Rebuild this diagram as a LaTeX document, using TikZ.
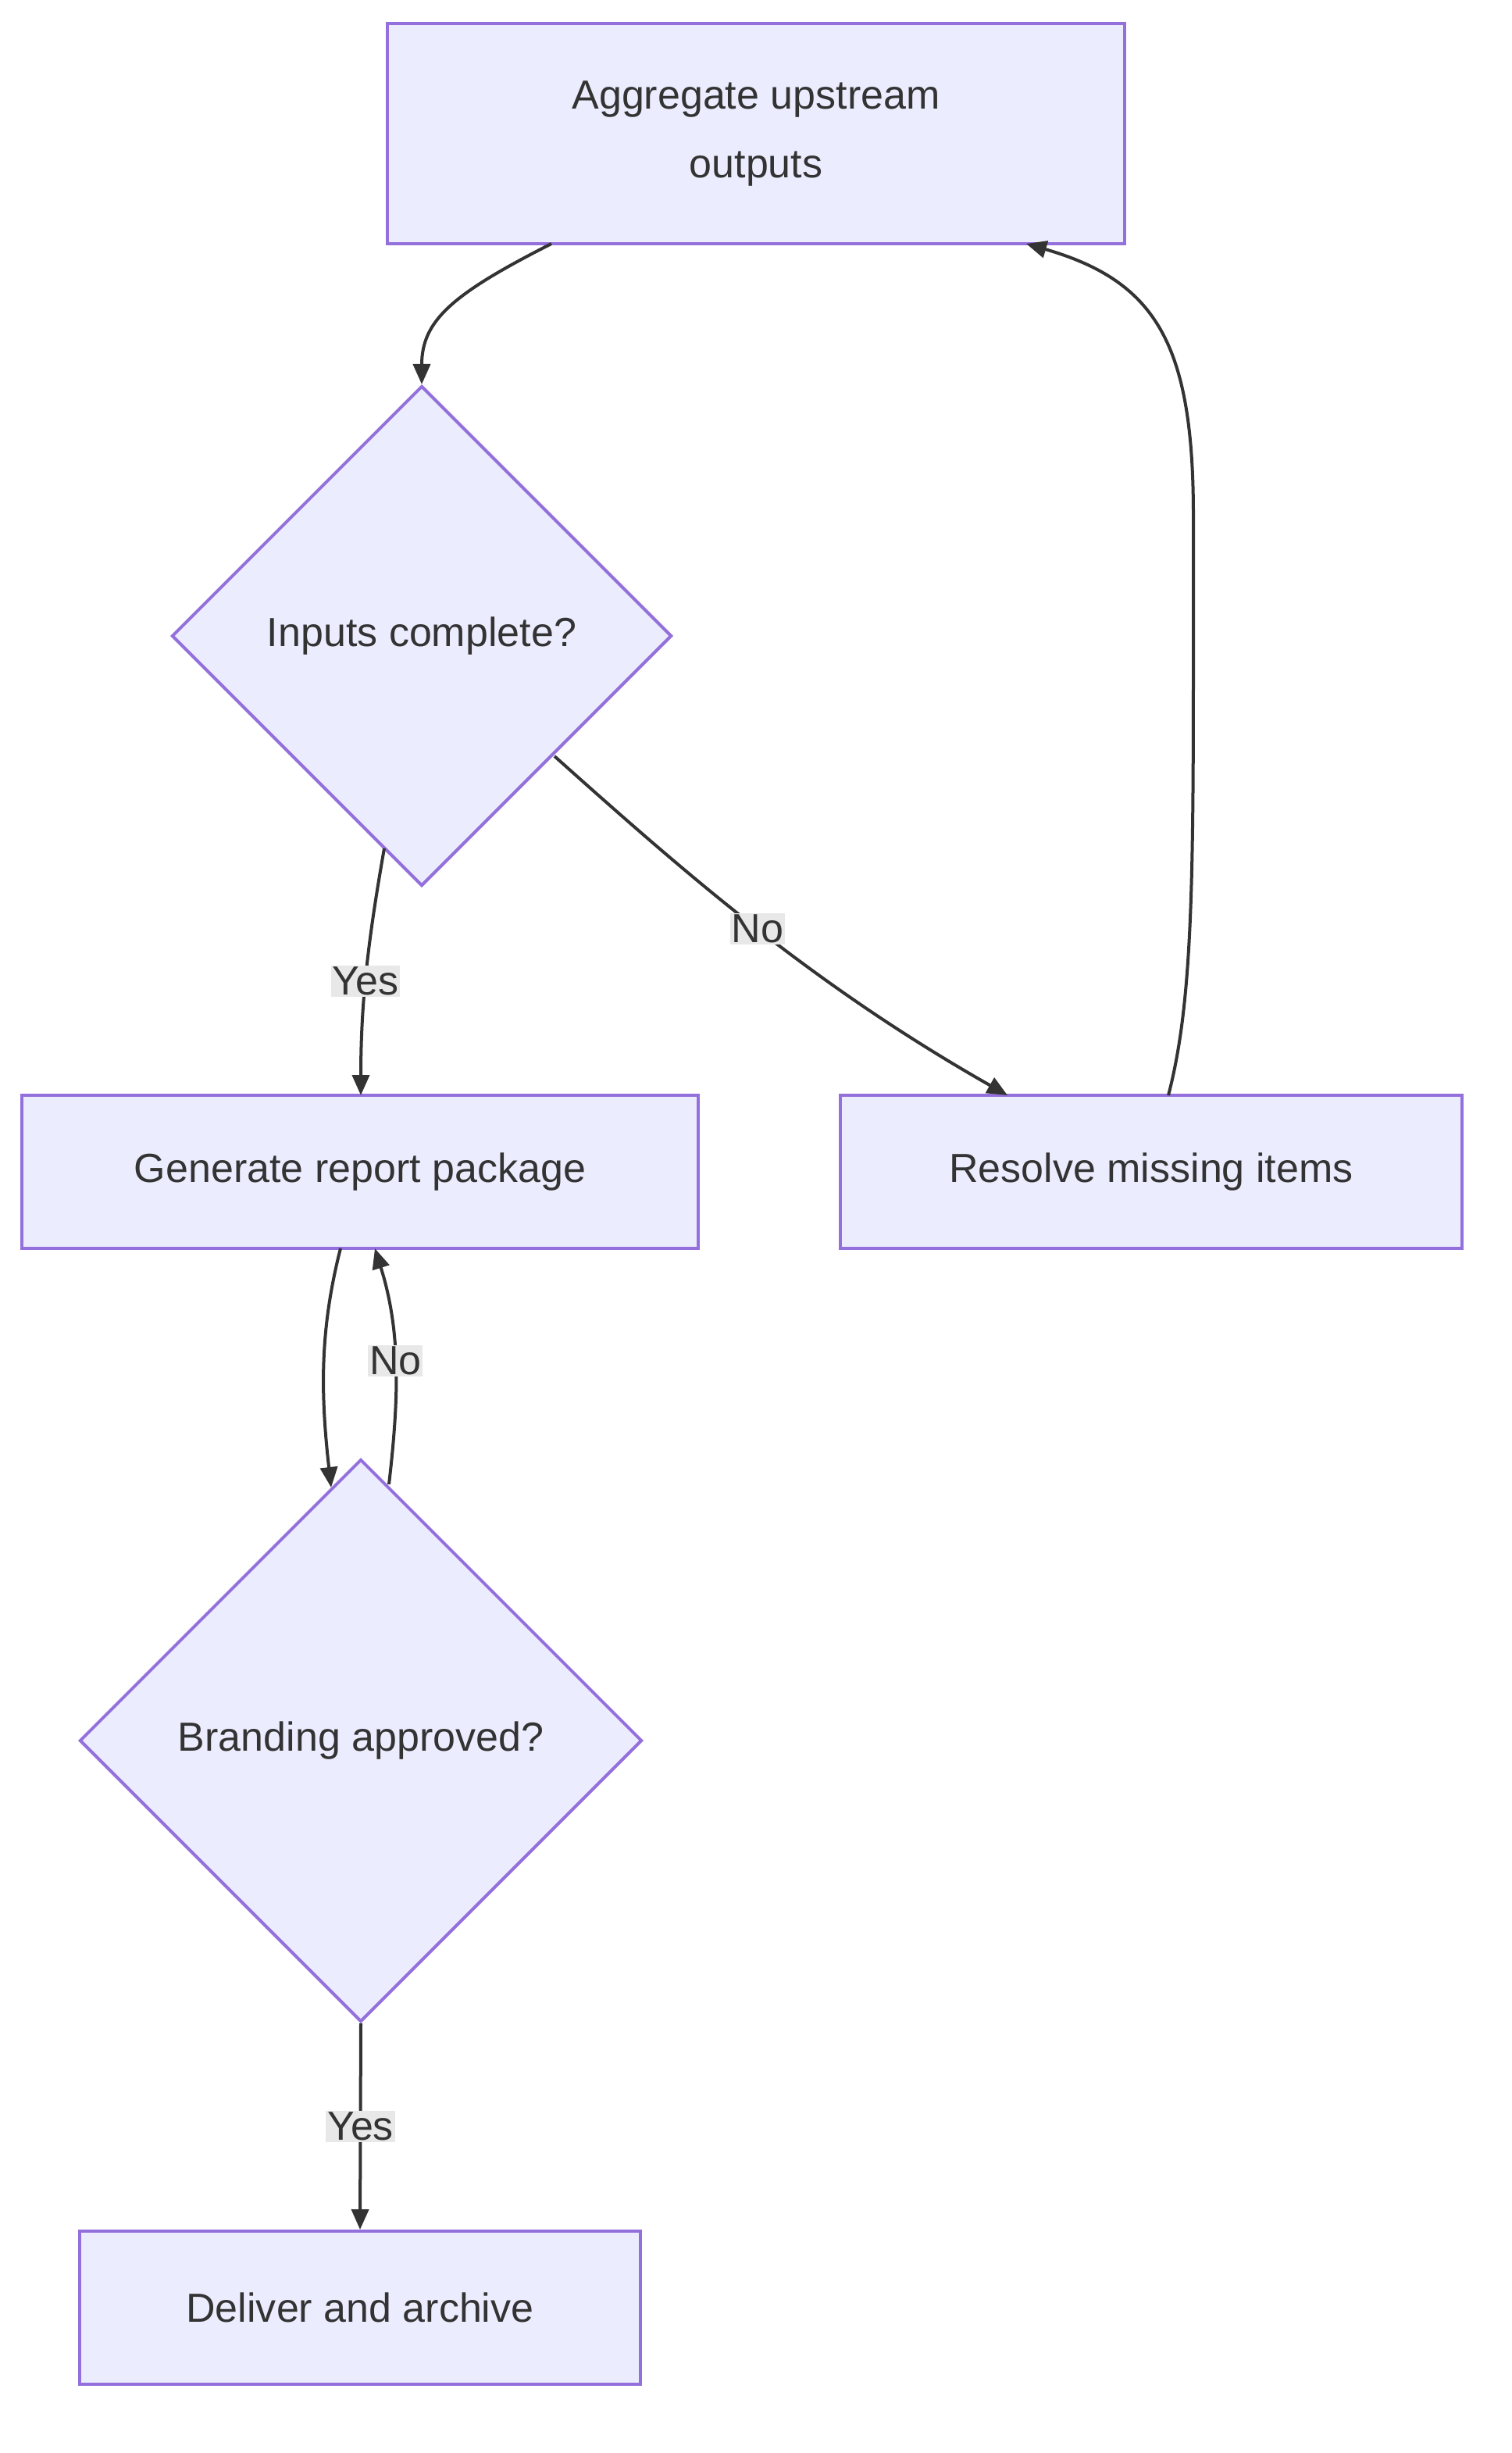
\documentclass[tikz,border=0pt]{standalone}
\usepackage{fontspec}
\setmainfont{Liberation Sans}
\usetikzlibrary{shapes.geometric,arrows.meta}
\definecolor{nfill}{HTML}{ECECFF}
\definecolor{nstroke}{HTML}{9370DB}
\definecolor{txt}{HTML}{333333}
\definecolor{lbg}{HTML}{E8E8E8}
\begin{document}
\begin{tikzpicture}[x=1pt,y=-1pt,
  every node/.style={font=\fontsize{26}{44}\selectfont,text=txt},
  box/.style={draw=nstroke,fill=nfill,line width=2pt,rectangle,inner sep=0pt},
  dia/.style={draw=nstroke,fill=nfill,line width=2pt,diamond,aspect=1,inner sep=0pt,minimum width=#1,minimum height=#1},
  edge/.style={draw=txt,line width=2pt,-{Triangle[length=13pt,width=11pt]}},
  lbl/.style={fill=lbg,inner sep=1pt}]
\useasboundingbox (0,0) rectangle (968,1570);
\node[box,minimum width=472,minimum height=141,align=center] (A) at (484,85.5) {Aggregate upstream\\outputs};
\node[dia=320] (D1) at (270,407) {Inputs complete?};
\node[box,minimum width=433,minimum height=98] (G) at (230.5,750) {Generate report package};
\node[box,minimum width=398,minimum height=98] (R) at (737,750) {Resolve missing items};
\node[dia=360] (D2) at (231,1114) {Branding approved?};
\node[box,minimum width=359,minimum height=98] (Del) at (230.5,1477) {Deliver and archive};
\coordinate (a1) at (353,156);
\draw[edge] (a1) .. controls (290,188) and (270,205) .. (D1.north);
\coordinate (d1y) at (246,543);
\draw[edge] (d1y) .. controls (236,600) and (231,640) .. (231,701) node[lbl,pos=0.55] {Yes};
\coordinate (d1n) at (355,484);
\coordinate (r1) at (645,701);
\draw[edge] (d1n) .. controls (440,560) and (520,630) .. (r1) node[lbl,pos=0.5] {No};
\coordinate (r2) at (748,701);
\coordinate (a2) at (657,156);
\draw[edge] (r2) .. controls (764,640) and (764,560) .. (764,400) -- (764,330) .. controls (764,220) and (740,180) .. (a2);
\coordinate (g1) at (218,799);
\coordinate (d2a) at (212,952);
\draw[edge] (g1) .. controls (205,850) and (205,890) .. (d2a);
\coordinate (d2b) at (249,950);
\coordinate (g2) at (240,799);
\draw[edge] (d2b) .. controls (256,890) and (256,850) .. (g2) node[lbl,pos=0.5] {No};
\draw[edge] (D2.south) -- (Del.north) node[lbl,midway] {Yes};
\end{tikzpicture}
\end{document}
